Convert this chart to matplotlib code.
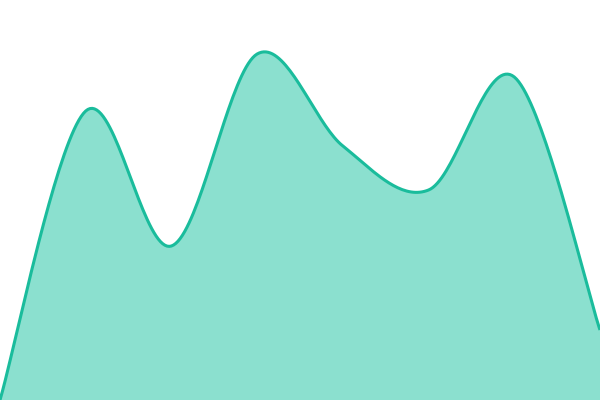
import numpy as np
import matplotlib
matplotlib.use("Agg")
import matplotlib.pyplot as plt

# data: 8 evenly spaced samples
x_vals = [0, 1, 2, 3, 4, 5, 6, 7]
y_vals = [0, 289, 154, 346, 254, 210, 323, 70]

line_color = '#1abc9c'
fill_color = '#8be0cf'


def cardinal(xs, ys, steps=40):
    # uniform catmull-rom style curve, endpoints repeated
    pts = np.column_stack([xs, ys]).astype(float)
    pts = np.vstack([pts[0], pts, pts[-1]])
    out = []
    t = np.linspace(0, 1, steps)[:, None]
    for i in range(1, len(pts) - 2):
        p0, p1, p2, p3 = pts[i - 1], pts[i], pts[i + 1], pts[i + 2]
        c1 = p1 + (p2 - p0) / 6
        c2 = p2 - (p3 - p1) / 6
        seg = ((1 - t) ** 3) * p1 + 3 * ((1 - t) ** 2) * t * c1 \
            + 3 * (1 - t) * t ** 2 * c2 + t ** 3 * p2
        out.append(seg if i == 1 else seg[1:])
    res = np.vstack(out)
    return res[:, 0], res[:, 1]


sx, sy = cardinal(x_vals, y_vals)

fig = plt.figure(figsize=(6, 4), dpi=100)
ax = fig.add_axes([0, 0, 1, 1])
ax.fill_between(sx, sy, 0, color=fill_color, linewidth=0)
ax.plot(sx, sy, color=line_color, linewidth=2.2, solid_capstyle='butt')
ax.set_xlim(0, 7)
ax.set_ylim(0, 400)
ax.axis('off')

fig.savefig('out.png', dpi=100)
